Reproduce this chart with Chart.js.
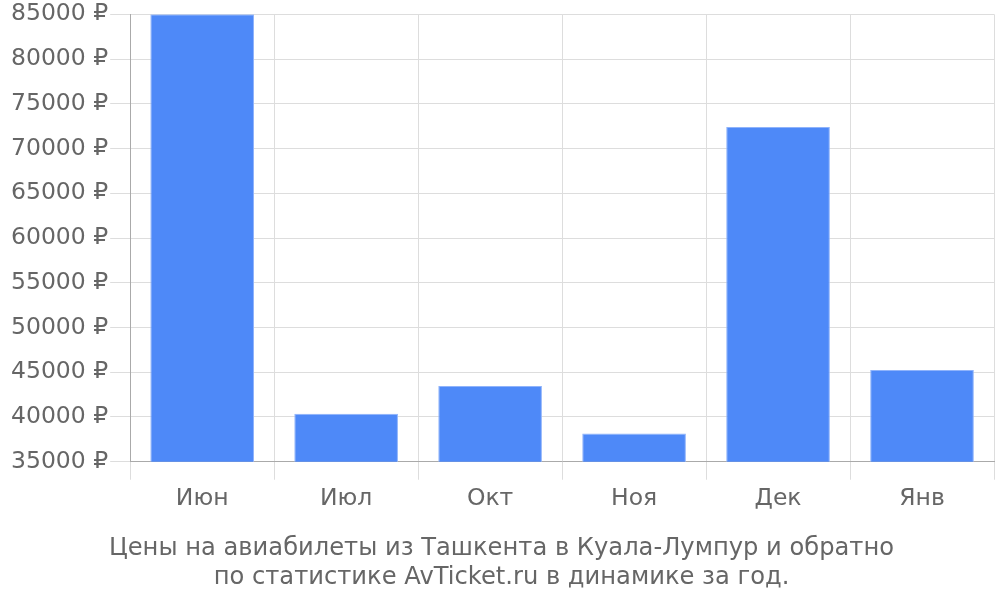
<!DOCTYPE html>
<html><head><meta charset="utf-8">
<script src="https://cdn.jsdelivr.net/npm/chart.js@4"></script>
<style>html,body{margin:0;padding:0;background:#fff}#w{width:1000px;height:600px}</style>
</head><body><div id="w"><canvas id="c"></canvas></div>
<script>
const categories = ["Июн", "Июл", "Окт", "Ноя", "Дек", "Янв"];
const prices = [85000, 40350, 43450, 38150, 72400, 45250];
const titleLines = ["Цены на авиабилеты из Ташкента в Куала-Лумпур и обратно", "по статистике AvTicket.ru в динамике за год."];
const yMin = 35000, yMax = 85000, yStep = 5000;

Chart.defaults.font.family = "'DejaVu Sans', sans-serif";
Chart.defaults.color = '#666';
new Chart(document.getElementById('c'), {
  type: 'bar',
  data: { labels: categories, datasets: [{ data: prices, backgroundColor: '#4e89f8', borderColor: '#8fb3fb', borderWidth: 1 }] },
  options: {
    responsive: true, maintainAspectRatio: false, animation: false,
    layout: { padding: { top: 0, right: 6, left: 9, bottom: 8 } },
    plugins: {
      legend: { display: false }, tooltip: { enabled: false },
      title: { display: true, position: 'bottom', text: titleLines, font: { size: 24.2, weight: 'normal' }, color: '#666', padding: { top: 16, bottom: 0 }, lineHeight: 1.17 }
    },
    scales: {
      x: { grid: { color: '#ddd', offset: true, tickLength: 18 }, border: { color: '#aaa' }, ticks: { font: { size: 23.5 }, color: '#666', padding: 5 } },
      y: { min: yMin, max: yMax, ticks: { stepSize: yStep, font: { size: 23.5, lineHeight: 1.05 }, color: '#666', padding: 2, callback: v => v + ' ₽' }, grid: { color: '#ddd', tickLength: 20 }, border: { color: '#aaa' } }
    }
  }
});
</script></body></html>
